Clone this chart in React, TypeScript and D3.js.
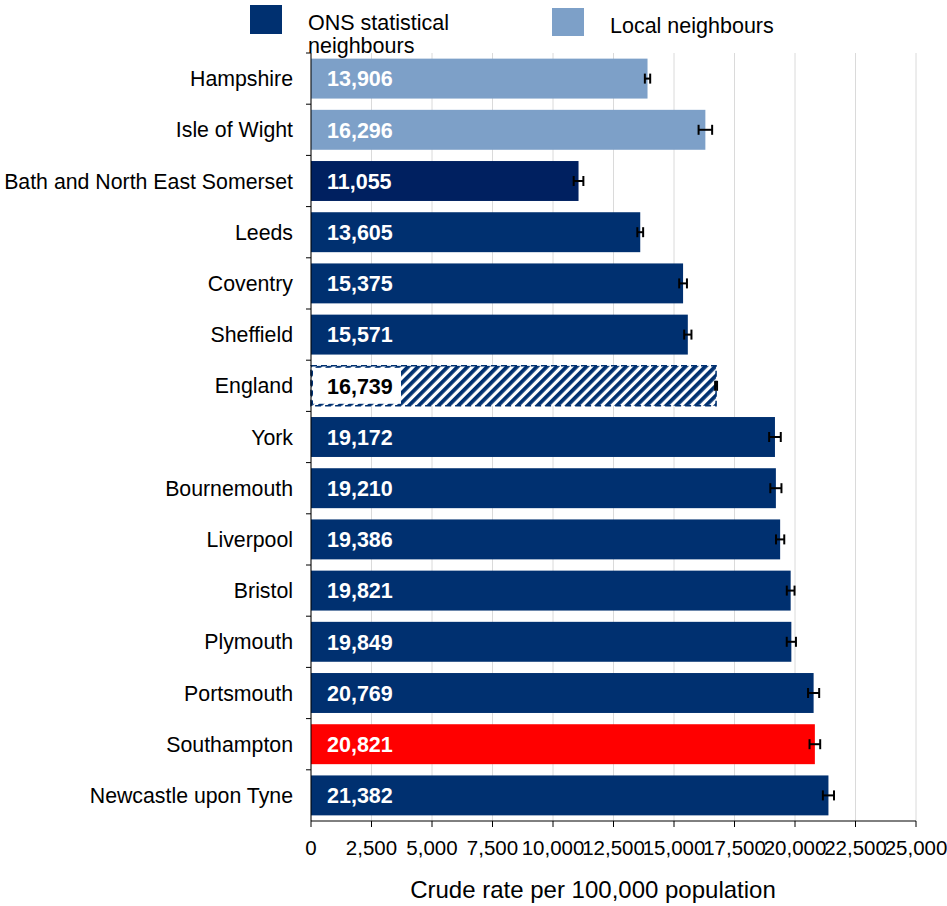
import React from "react";
import * as d3 from "d3";

const categories = [
  "Hampshire", "Isle of Wight", "Bath and North East Somerset", "Leeds", "Coventry",
  "Sheffield", "England", "York", "Bournemouth", "Liverpool", "Bristol", "Plymouth",
  "Portsmouth", "Southampton", "Newcastle upon Tyne",
];
const values = [13906, 16296, 11055, 13605, 15375, 15571, 16739, 19172, 19210, 19386, 19821, 19849, 20769, 20821, 21382];
const ciHalf = [110, 280, 200, 120, 160, 150, 40, 240, 230, 170, 160, 190, 230, 220, 230];
const groups = ["local", "local", "onsDark", "ons", "ons", "ons", "england", "ons", "ons", "ons", "ons", "ons", "ons", "south", "ons"];
const xTicks = [0, 2500, 5000, 7500, 10000, 12500, 15000, 17500, 20000, 22500, 25000];

const colors: Record<string, string> = {
  local: "#7DA0C8",
  ons: "#003070",
  onsDark: "#002060",
  south: "#FF0000",
  england: "url(#hatch)",
};

export default function App() {
  const W = 947, H = 906;
  const left = 311, right = 916, top = 53, bottom = 821;
  const x = d3.scaleLinear().domain([0, 25000]).range([left, right]);
  const y = d3.scaleBand<string>().domain(categories).range([top, bottom]).paddingInner(0.22).paddingOuter(0.11);
  const fmt = d3.format(",");
  const font = "'Liberation Sans', Arial, sans-serif";
  return (
    <svg width={W} height={H} style={{ position: "absolute", left: 0, top: 0 }} fontFamily={font}>
      <defs>
        <pattern id="hatch" patternUnits="userSpaceOnUse" width={7} height={7} patternTransform="rotate(45)">
          <rect width={7} height={7} fill="#fff" />
          <rect width={3.8} height={7} fill="#003070" />
        </pattern>
      </defs>
      <rect width={W} height={H} fill="#fff" />
      {xTicks.map((t) => (
        <line key={"g" + t} x1={x(t)} x2={x(t)} y1={top} y2={bottom} stroke="#DADADA" strokeWidth={1} />
      ))}
      {categories.map((c, i) => {
        const yy = y(c)!;
        const bh = y.bandwidth();
        const g = groups[i];
        const xe = x(values[i]);
        const isEng = g === "england";
        return (
          <g key={c}>
            <rect x={x(0)} y={yy} width={xe - x(0)} height={bh} fill={colors[g]}
              stroke={isEng ? "#003070" : "none"} strokeDasharray={isEng ? "6,4" : undefined} strokeWidth={isEng ? 1.5 : 0} />
            {isEng && <rect x={x(0) + 2} y={yy + 2} width={88} height={bh - 4} fill="#fff" />}
            <text x={x(0) + 16} y={yy + bh / 2} dy="0.36em" fontSize={21.5} fontWeight="bold" fill={isEng ? "#000" : "#fff"}>
              {fmt(values[i])}
            </text>
            <g stroke="#000" strokeWidth={2}>
              <line x1={x(values[i] - ciHalf[i])} x2={x(values[i] + ciHalf[i])} y1={yy + bh / 2} y2={yy + bh / 2} />
              <line x1={x(values[i] - ciHalf[i])} x2={x(values[i] - ciHalf[i])} y1={yy + bh / 2 - 5} y2={yy + bh / 2 + 5} />
              <line x1={x(values[i] + ciHalf[i])} x2={x(values[i] + ciHalf[i])} y1={yy + bh / 2 - 5} y2={yy + bh / 2 + 5} />
            </g>
            <text x={293} y={yy + bh / 2} dy="0.36em" fontSize={21.3} textAnchor="end" fill="#000">{c}</text>
          </g>
        );
      })}
      {/* y axis */}
      <line x1={left} x2={left} y1={top} y2={bottom} stroke="#000" strokeWidth={1} />
      {categories.map((c, i) => (
        <line key={"yt" + i} x1={left - 5} x2={left} y1={top + i * (bottom - top) / 15} y2={top + i * (bottom - top) / 15} stroke="#000" />
      ))}
      {/* x axis */}
      <line x1={left} x2={right} y1={bottom} y2={bottom} stroke="#000" strokeWidth={1} />
      {xTicks.map((t) => (
        <g key={"t" + t}>
          <line x1={x(t)} x2={x(t)} y1={bottom} y2={bottom + 6} stroke="#000" />
          <text x={x(t)} y={855} fontSize={20.5} textAnchor="middle" fill="#000">{fmt(t)}</text>
        </g>
      ))}
      <text x={593} y={898} fontSize={24} textAnchor="middle" fill="#000">Crude rate per 100,000 population</text>
      {/* legend */}
      <rect x={250} y={5} width={32} height={29} fill="#003070" />
      <text x={308} y={30} fontSize={21.5} fill="#000">ONS statistical</text>
      <text x={308} y={53} fontSize={21.5} fill="#000">neighbours</text>
      <rect x={552} y={8} width={32} height={28} fill="#7DA0C8" />
      <text x={610} y={33} fontSize={21.5} fill="#000">Local neighbours</text>
    </svg>
  );
}
